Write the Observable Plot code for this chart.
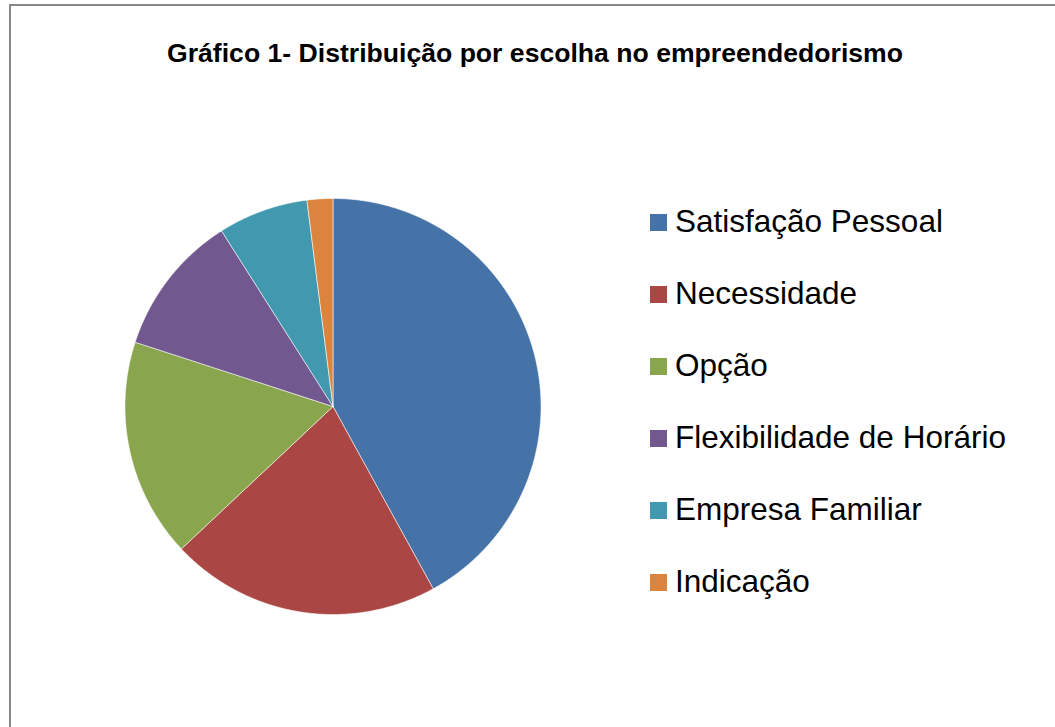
<!DOCTYPE html>
<html><head><meta charset="utf-8">
<script src="https://cdn.jsdelivr.net/npm/d3@7"></script>
<script src="https://cdn.jsdelivr.net/npm/@observablehq/plot@0.6"></script>
<style>
html,body{margin:0;padding:0;background:#fff;overflow:hidden;}
#wrap{position:relative;width:1055px;height:727px;overflow:hidden;font-family:"Liberation Sans",Arial,sans-serif;color:#000;}
#border{position:absolute;left:9px;top:4px;width:1200px;height:900px;border-left:2px solid #878787;border-top:2px solid #878787;}
#title{position:absolute;left:0;width:1070px;top:39.5px;text-align:center;font-weight:bold;font-size:26.6px;line-height:26.6px;white-space:nowrap;}
#chart{position:absolute;left:0;top:0;}
.item{position:absolute;left:650px;font-size:31.5px;line-height:31.5px;white-space:nowrap;}
.sw{position:absolute;left:0;top:7.7px;width:17px;height:17px;}
.lab{position:absolute;left:25px;top:0;}
</style>
</head><body>
<div id="wrap">
  <div id="border"></div>
  <div id="title">Gráfico 1- Distribuição por escolha no empreendedorismo</div>
  <div id="chart"></div>
  <div id="legend"></div>
</div>
<script>
const categories = ["Satisfação Pessoal","Necessidade","Opção","Flexibilidade de Horário","Empresa Familiar","Indicação"];
const shares = [42, 21, 17, 11, 7, 2];
const colors = ["#4572A7","#AA4643","#89A54E","#71588F","#4198AF","#DB843D"];

const data = categories.map((c, i) => ({name: c, value: shares[i]}));
const arcs = d3.pie().sort(null).value(d => d.value)(data);
const pts = [];
for (const a of arcs) {
  const name = a.data.name;
  const n = Math.max(4, Math.ceil((a.endAngle - a.startAngle) / 0.005));
  pts.push({name, x: 0, y: 0});
  for (let i = 0; i <= n; i++) {
    const t = a.startAngle + (a.endAngle - a.startAngle) * i / n;
    pts.push({name, x: Math.sin(t), y: Math.cos(t)});
  }
  pts.push({name, x: 0, y: 0});
}

const cx = 332.5, cy = 406, r = 208;
const chart = Plot.plot({
  width: 1055, height: 727, margin: 0,
  style: {background: "transparent", overflow: "visible"},
  x: {domain: [-1, 1], range: [cx - r, cx + r], axis: null},
  y: {domain: [-1, 1], range: [cy + r, cy - r], axis: null},
  color: {domain: categories, range: colors},
  marks: [
    Plot.line(pts, {x: "x", y: "y", z: "name", fill: "name", stroke: "#ffffff", strokeOpacity: 0.55, strokeWidth: 1, curve: "linear"})
  ]
});
document.getElementById("chart").appendChild(chart);

const legend = document.getElementById("legend");
categories.forEach((c, i) => {
  const it = document.createElement("div");
  it.className = "item";
  it.style.top = (206.3 + i * 72) + "px";
  const sw = document.createElement("span");
  sw.className = "sw"; sw.style.background = colors[i];
  const lab = document.createElement("span");
  lab.className = "lab"; lab.textContent = c;
  it.appendChild(sw); it.appendChild(lab);
  legend.appendChild(it);
});
</script>
</body></html>
